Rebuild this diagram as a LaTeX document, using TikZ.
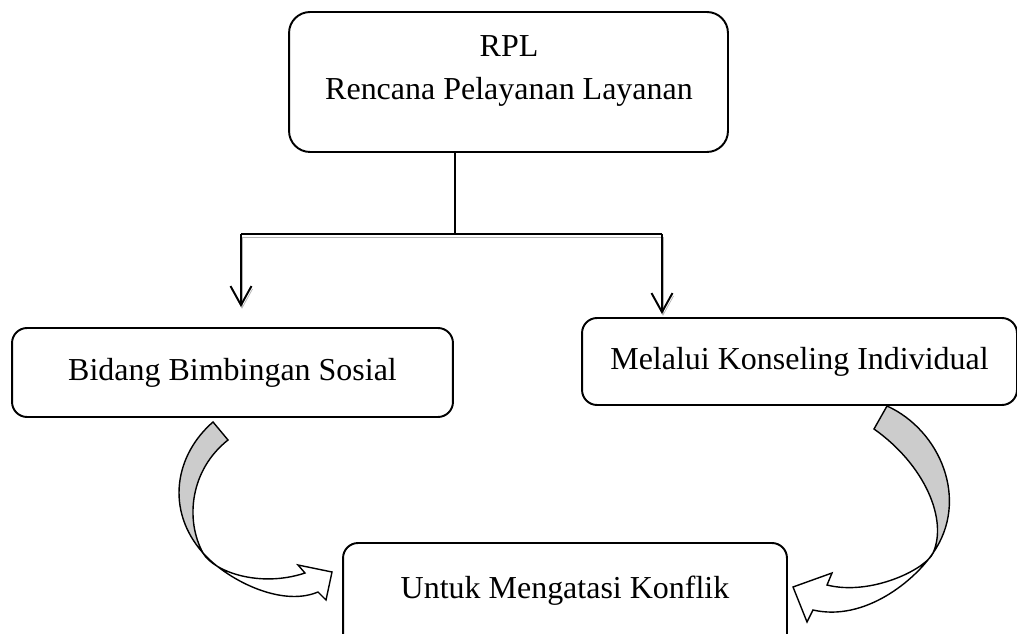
\documentclass[tikz,border=0pt]{standalone}
\usepackage{fontspec}
\setmainfont{Liberation Serif}
\usetikzlibrary{arrows.meta}
\definecolor{bandgray}{HTML}{CCCCCC}
\definecolor{shadowgray}{HTML}{B4B4B4}

\begin{document}
\begin{tikzpicture}[x=0.02cm, y=-0.02cm,
        box/.style={draw, line width=1.1pt, rounded corners=0.3cm, inner sep=0pt, font=\fontsize{18.2}{25}\selectfont},
        link/.style={line width=1.1pt, preaction={draw=shadowgray, transform canvas={shift={(1,3)}}}},
        bent/.style={draw, line width=0.8pt, line join=miter}]
    \useasboundingbox (0,0) rectangle (1017,634);

    % Top box
    \node[box, rounded corners=0.42cm, minimum width=8.78cm, minimum height=2.8cm] (rpl) at (508.5, 82) {};
    \node[font=\fontsize{18.2}{22}\selectfont, align=center, anchor=base] (rpltext) at (509, 100) {RPL\\[0.1cm]Rencana Pelayanan Layanan};

    % Two branches
    \node[box, minimum width=8.82cm, minimum height=1.78cm] (bidang) at (232.5, 372.5) {Bidang Bimbingan Sosial};
    \node[box, minimum width=8.7cm, minimum height=1.74cm] (melalui) at (799.5, 361.5) {Melalui Konseling Individual};

    % Bottom box (runs past the lower edge)
    \node[box, minimum width=8.88cm, minimum height=2.8cm, text height=0.45cm, text depth=1.05cm] (untuk) at (565, 613) {Untuk Mengatasi Konflik};

    % Connectors
    \coordinate (split) at (455, 234);
    \coordinate (lcorner) at (241, 234);
    \coordinate (rcorner) at (662, 234);
    \draw[line width=1pt] (split |- rpl.south) -- (split);
    \draw[link] (lcorner) -- (rcorner);
    \draw[link, -{Straight Barb[length=0.38cm, width=0.42cm, line width=1.1pt]}, shorten >=0.4cm] (lcorner) -- (lcorner |- bidang.north);
    \draw[link, -{Straight Barb[length=0.38cm, width=0.42cm, line width=1.1pt]}, shorten >=0.06cm] (rcorner) -- (rcorner |- melalui.north);

    % Left bent arrow
    \draw[bent, fill=bandgray] (213,422) .. controls (175,455) and (165,510) .. (203,553)
        .. controls (185,520) and (190,470) .. (228,440) -- cycle;
    \draw[bent, fill=white] (203,553) .. controls (225,578) and (280,608) .. (318,592)
        -- (326,600) -- (332,572) -- (298,565) -- (305,573)
        .. controls (260,588) and (214,572) .. (203,553) -- cycle;

    % Right bent arrow
    \draw[bent, fill=bandgray] (887,406) .. controls (940,430) and (970,500) .. (933,553)
        .. controls (948,520) and (925,465) .. (874,429) -- cycle;
    \draw[bent, fill=white] (933,553) .. controls (915,580) and (865,622) .. (813,610)
        -- (807,622) -- (793,587) -- (832,573) -- (827,585)
        .. controls (870,596) and (925,570) .. (933,553) -- cycle;
\end{tikzpicture}
\end{document}
